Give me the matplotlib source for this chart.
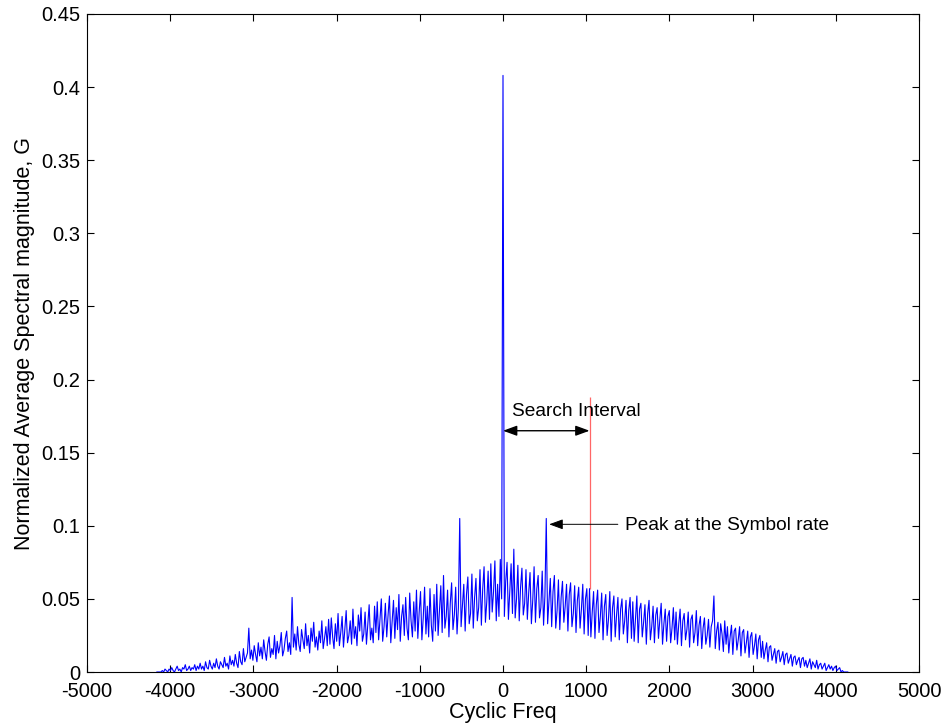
import numpy as np
import matplotlib.pyplot as plt

plt.rcParams['font.family'] = ['Liberation Sans', 'DejaVu Sans']
plt.rcParams['font.size'] = 14
plt.rcParams['axes.unicode_minus'] = False

# cyclic frequency bins (Hz)
bin_width = 16.25
bins = np.arange(-256, 256)

# normalized average spectral magnitude G, in units of 1e-3, 32 bins (520 Hz) per row
G_milli = [
    0, 0, 0, 0, 1, 0, 2, 1, 0, 2, 1, 3, 1, 0, 2, 4, 1, 2, 0, 3, 2, 5, 1, 2, 4, 1, 3, 2, 5, 1, 4, 2,
    6, 2, 4, 1, 7, 3, 2, 8, 4, 2, 6, 3, 9, 4, 2, 7, 5, 3, 10, 4, 6, 2, 11, 5, 8, 4, 12, 6, 3, 14, 7, 5,
    16, 7, 10, 13, 30, 9, 15, 8, 18, 12, 7, 20, 11, 17, 9, 22, 14, 8, 19, 24, 10, 16, 12, 25, 9, 21, 13, 18, 27, 11, 15, 23,
    28, 14, 20, 12, 51, 17, 26, 15, 31, 19, 14, 29, 22, 16, 33, 18, 25, 13, 30, 21, 34, 17, 24, 15, 28, 20, 35, 16, 23, 31, 18, 36,
    19, 37, 24, 16, 33, 21, 40, 18, 27, 38, 17, 29, 42, 20, 25, 35, 19, 43, 23, 31, 18, 39, 28, 44, 21, 26, 41, 19, 33, 46, 22, 30,
    20, 45, 27, 48, 22, 36, 50, 21, 31, 47, 24, 39, 52, 20, 34, 49, 23, 44, 29, 53, 21, 38, 46, 25, 51, 30, 22, 54, 35, 24, 48, 28,
    56, 23, 41, 55, 22, 37, 58, 26, 45, 24, 57, 32, 21, 53, 28, 60, 25, 42, 59, 27, 66, 30, 38, 56, 24, 47, 61, 29, 39, 58, 26, 44,
    105, 31, 46, 60, 28, 53, 65, 33, 40, 67, 30, 51, 64, 35, 44, 70, 32, 57, 72, 34, 48, 69, 36, 74, 41, 55, 76, 35, 60, 38, 77, 50,
    408, 38, 62, 75, 36, 55, 74, 40, 84, 37, 50, 73, 35, 58, 71, 39, 47, 70, 36, 54, 68, 33, 49, 72, 34, 57, 66, 37, 44, 69, 32, 52,
    105, 33, 48, 64, 31, 55, 66, 30, 42, 63, 29, 51, 62, 34, 45, 60, 28, 53, 61, 31, 40, 59, 27, 49, 58, 30, 43, 60, 26, 50, 57, 25,
    57, 24, 41, 55, 23, 46, 56, 27, 38, 54, 22, 45, 53, 25, 36, 55, 21, 44, 52, 24, 39, 51, 22, 43, 50, 26, 35, 49, 20, 42, 51, 23,
    48, 21, 37, 52, 20, 43, 47, 24, 34, 46, 19, 40, 49, 22, 31, 45, 20, 39, 44, 23, 36, 47, 19, 33, 43, 21, 38, 42, 20, 30, 44, 22,
    41, 19, 33, 43, 18, 35, 40, 22, 29, 41, 17, 36, 39, 20, 27, 42, 18, 32, 38, 16, 30, 37, 19, 25, 36, 17, 31, 35, 52, 16, 28, 34,
    15, 33, 26, 14, 35, 19, 31, 13, 24, 32, 12, 28, 30, 15, 22, 31, 11, 27, 29, 13, 20, 28, 10, 24, 27, 12, 18, 26, 9, 22, 25, 10,
    21, 9, 15, 20, 7, 17, 18, 8, 12, 16, 6, 14, 15, 7, 10, 14, 5, 12, 13, 6, 9, 12, 4, 10, 11, 5, 8, 10, 3, 9, 10, 4,
    8, 3, 6, 9, 2, 7, 5, 3, 8, 2, 5, 6, 2, 4, 6, 1, 3, 5, 2, 4, 1, 3, 4, 1, 2, 3, 0, 1, 0, 0, 0, 0,
]

symbol_rate = 520       # Hz
search_end = 1040       # upper limit of the search interval
search_marker_top = 0.188

freq = bins * bin_width
G = np.array(G_milli) / 1000.0

fig = plt.figure(figsize=(9.43, 7.27), dpi=100)
ax = fig.add_axes([87 / 943, 55 / 727, 832 / 943, 658 / 727])

ax.plot(freq, G, color=(0, 0, 1), lw=0.8, zorder=3)

# end of the search interval
k_end = np.argmin(np.abs(freq - search_end))
ax.vlines(freq[k_end], G[k_end], search_marker_top, color=(1, 0.4, 0.4), lw=0.9, zorder=2)

# search interval arrow
ax.annotate('', xy=(0, 0.165), xytext=(freq[k_end], 0.165),
            arrowprops=dict(arrowstyle='<|-|>,head_length=0.6,head_width=0.22',
                            color='k', lw=1.0, shrinkA=0, shrinkB=0))
ax.text(110, 0.178, 'Search Interval', ha='left', va='center', fontsize=13.8)

# symbol rate peak
k_sym = np.argmin(np.abs(freq - symbol_rate))
ax.annotate('', xy=(freq[k_sym] + 35, 0.101), xytext=(1380, 0.101),
            arrowprops=dict(arrowstyle='-|>,head_length=0.6,head_width=0.22',
                            color='k', lw=0.7, shrinkA=0, shrinkB=0))
ax.text(1466, 0.1005, 'Peak at the Symbol rate', ha='left', va='center', fontsize=13.8)

ax.set_xlim(-5000, 5000)
ax.set_ylim(0, 0.45)
ax.set_xticks(np.arange(-5000, 5001, 1000))
ax.set_yticks(np.arange(0, 0.451, 0.05))
ax.set_yticklabels(['%g' % round(v, 2) for v in np.arange(0, 0.451, 0.05)])
ax.tick_params(direction='in', top=True, right=True, length=5, width=0.8, labelsize=14.5)
ax.tick_params(axis='x', pad=7)
ax.tick_params(axis='y', pad=5)
for s in ax.spines.values():
    s.set_linewidth(0.8)

ax.set_xlabel('Cyclic Freq', fontsize=15.5, labelpad=1)
ax.set_ylabel('Normalized Average Spectral magnitude, G', fontsize=15.5, labelpad=4)

fig.savefig('out.png', dpi=100)
